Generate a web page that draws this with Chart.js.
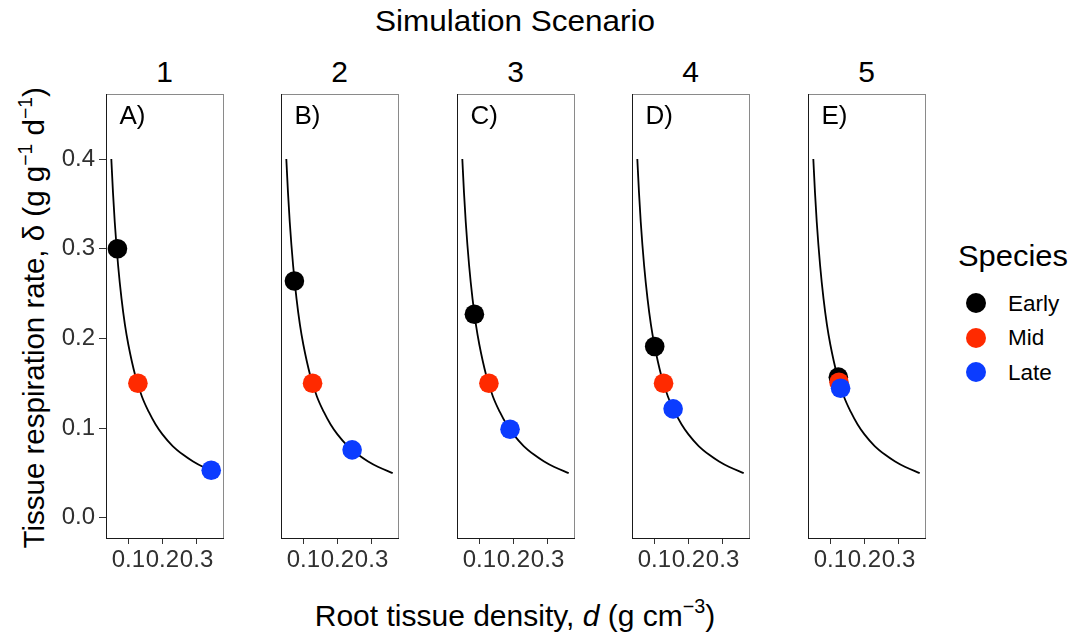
<!DOCTYPE html>
<html><head><meta charset="utf-8">
<script src="https://cdn.jsdelivr.net/npm/chart.js@4.4.1/dist/chart.umd.min.js"></script>
<style>
html,body{margin:0;padding:0;background:#fff;}
body{width:1068px;height:636px;position:relative;overflow:hidden;font-family:"Liberation Sans",Arial,sans-serif;color:#000;}
.t{position:absolute;white-space:nowrap;line-height:1;}
sup{font-size:0.66em;vertical-align:0;position:relative;top:-0.62em;line-height:0;}
canvas{position:absolute;}
.dot{position:absolute;width:20px;height:20px;border-radius:50%;}
</style></head><body>
<script>
// ---- data ----
const scenarios = ['1', '2', '3', '4', '5'];
const panelLetters = ['A)', 'B)', 'C)', 'D)', 'E)'];
const species = ['Early', 'Mid', 'Late'];
const speciesColors = ['#000000', '#ff2a00', '#0b3cff'];
const curveD =     [0.050, 0.055, 0.060, 0.070, 0.080, 0.090, 0.100, 0.120, 0.140, 0.160, 0.180, 0.200, 0.230, 0.260, 0.290, 0.320, 0.362];
const curveDelta = [0.400, 0.362, 0.330, 0.281, 0.244, 0.215, 0.193, 0.159, 0.135, 0.118, 0.104, 0.093, 0.080, 0.0705, 0.0628, 0.0566, 0.0498];
const earlyD =     [0.068, 0.0737, 0.0854, 0.101, 0.1234];
const earlyDelta = [0.300, 0.264, 0.227, 0.191, 0.1568];
const midD =       [0.128, 0.127, 0.128, 0.127, 0.1254];
const midDelta =   [0.150, 0.150, 0.150, 0.150, 0.1512];
const lateD =      [0.343, 0.243, 0.190, 0.155, 0.130];
const lateDelta =  [0.053, 0.0758, 0.0988, 0.1215, 0.1445];
const xTicks = [0.1, 0.2, 0.3];
const yTicks = [0.0, 0.1, 0.2, 0.3, 0.4];
const xRange = [0.0344, 0.3776];
const yRange = [-0.0225, 0.4725];

// ---- layout ----
const FONT = '"Liberation Sans", Arial, sans-serif';
const AREA_TOP = 94, AREA_H = 444, AREA_W = 117, YAXIS_W = 50, PAD_TOP = 4, PAD_RIGHT = 4, XAXIS_H = 45;
const panelLefts = scenarios.map((s, i) => Math.round(105.5 + 175.6 * i));

function addText(html, left, top, size, extra) {
  const d = document.createElement('div');
  d.className = 't';
  d.style.left = left + 'px';
  d.style.top = top + 'px';
  d.style.fontSize = size + 'px';
  if (extra) Object.assign(d.style, extra);
  d.innerHTML = html;
  document.body.appendChild(d);
  return d;
}

const framePlugin = {
  id: 'frame',
  beforeDraw(chart) {
    const a = chart.chartArea, ctx = chart.ctx;
    ctx.save();
    ctx.strokeStyle = '#8a8a8a';
    ctx.lineWidth = 1;
    ctx.strokeRect(Math.round(a.left) + 0.5, Math.round(a.top) + 0.5, Math.round(a.right - a.left), Math.round(a.bottom - a.top));
    ctx.restore();
  }
};

const speciesD = [earlyD, midD, lateD];
const speciesDelta = [earlyDelta, midDelta, lateDelta];

scenarios.forEach((sc, i) => {
  const cv = document.createElement('canvas');
  const W = YAXIS_W + AREA_W + PAD_RIGHT, H = PAD_TOP + AREA_H + XAXIS_H;
  cv.width = W; cv.height = H;
  cv.style.left = (panelLefts[i] - YAXIS_W) + 'px';
  cv.style.top = (AREA_TOP - PAD_TOP) + 'px';
  cv.style.width = W + 'px'; cv.style.height = H + 'px';
  document.body.appendChild(cv);

  const datasets = [{
    label: 'curve',
    data: curveD.map((d, k) => ({ x: d, y: curveDelta[k] })),
    showLine: true, borderColor: '#000', borderWidth: 1.8, pointRadius: 0,
    cubicInterpolationMode: 'monotone', fill: false, order: 4
  }];
  species.forEach((sp, j) => {
    datasets.push({
      label: sp,
      data: [{ x: speciesD[j][i], y: speciesDelta[j][i] }],
      backgroundColor: speciesColors[j], borderWidth: 0,
      pointRadius: 9.8, pointHoverRadius: 9.8, order: 3 - j
    });
  });

  const first = i === 0;
  new Chart(cv, {
    type: 'scatter',
    data: { datasets },
    plugins: [framePlugin],
    options: {
      responsive: false, animation: false, devicePixelRatio: 1,
      layout: { autoPadding: false, padding: { top: PAD_TOP, right: PAD_RIGHT, left: 0, bottom: 0 } },
      plugins: { legend: { display: false }, tooltip: { enabled: false } },
      events: [],
      scales: {
        x: {
          type: 'linear', position: 'bottom', min: xRange[0], max: xRange[1],
          afterBuildTicks: s => { s.ticks = xTicks.map(v => ({ value: v })); },
          afterFit: s => { s.height = XAXIS_H; s.paddingLeft = 0; s.paddingRight = 0; s.paddingTop = 0; s.paddingBottom = 0; },
          ticks: { autoSkip: false, maxRotation: 0, minRotation: 0, padding: 2, color: '#303030',
                   font: { family: FONT, size: 24 }, callback: v => Number(v).toFixed(1) },
          grid: { display: true, drawOnChartArea: false, drawTicks: true, tickLength: 6, color: '#333', lineWidth: 1 },
          border: { display: true, color: '#1a1a1a', width: 1 }
        },
        y: {
          type: 'linear', position: 'left', min: yRange[0], max: yRange[1],
          afterBuildTicks: s => { s.ticks = yTicks.map(v => ({ value: v })); },
          afterFit: s => { s.width = YAXIS_W; s.paddingLeft = 0; s.paddingRight = 0; s.paddingTop = 0; s.paddingBottom = 0; },
          ticks: { display: first, autoSkip: false, padding: 4, color: '#303030',
                   font: { family: FONT, size: 24 }, callback: v => Number(v).toFixed(1) },
          grid: { display: first, drawOnChartArea: false, drawTicks: true, tickLength: 7, color: '#333', lineWidth: 1 },
          border: { display: true, color: '#1a1a1a', width: 1 }
        }
      }
    }
  });

  // strip label and panel letter
  const cx = panelLefts[i] + AREA_W / 2;
  addText(sc, cx - 30, 57, 30, { width: '60px', textAlign: 'center' });
  addText(panelLetters[i], panelLefts[i] + 13.5, 102, 26);
});

// titles
addText('Simulation Scenario', 515 - 200, 6, 30, { width: '400px', textAlign: 'center', transform: 'scaleX(1.05)' });
addText('Root tissue density, <i>d</i> (g cm<sup>−3</sup>)', 515 - 300, 600.6, 30, { width: '600px', textAlign: 'center' });
addText('Tissue respiration rate, δ (g g<sup>−1</sup> d<sup>−1</sup>)', 33.8 - 280, 318 - 14.75, 29.5,
        { width: '560px', height: '29.5px', textAlign: 'center', transform: 'rotate(-90deg)' });

// legend
addText('Species', 958, 241.3, 30, { transform: 'scaleX(1.03)', transformOrigin: 'left center' });
const legendY = [303, 337.5, 372];
species.forEach((sp, j) => {
  const d = document.createElement('div');
  d.className = 'dot';
  d.style.left = (976 - 10) + 'px';
  d.style.top = (legendY[j] - 10) + 'px';
  d.style.background = speciesColors[j];
  document.body.appendChild(d);
  addText(sp, 1008, legendY[j] + 8.7 - 0.8465 * 22.5, 22.5);
});
</script>
</body></html>
